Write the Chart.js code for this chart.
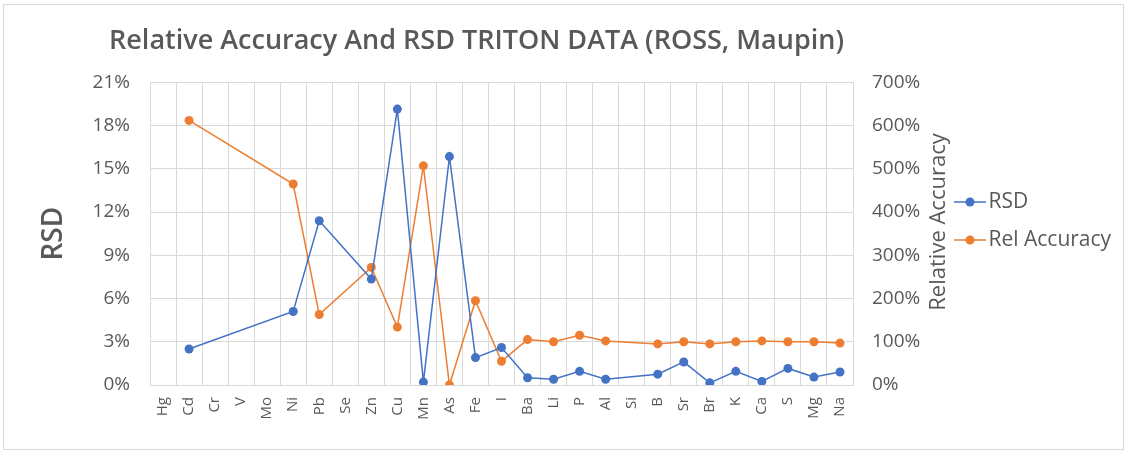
<!DOCTYPE html>
<html><head><meta charset="utf-8">
<script src="https://cdn.jsdelivr.net/npm/chart.js@4.4.1/dist/chart.umd.min.js"></script>
<style>
html,body{margin:0;padding:0;background:#fff;}
#wrap{position:relative;width:1129px;height:454px;}
#frame{position:absolute;left:3px;top:4px;width:1119px;height:444px;border:1px solid #d9d9d9;pointer-events:none;}
canvas{display:block;}
</style></head><body>
<div id="wrap"><canvas id="c" width="1129" height="454"></canvas><div id="frame"></div></div>
<script>
const categories = ['Hg','Cd','Cr','V','Mo','Ni','Pb','Se','Zn','Cu','Mn','As','Fe','I','Ba','Li','P','Al','Si','B','Sr','Br','K','Ca','S','Mg','Na'];
const rsdValues = [null,2.5,null,null,null,5.1,11.4,null,7.35,19.15,0.2,15.85,1.9,2.6,0.5,0.4,0.95,0.4,null,0.75,1.6,0.15,0.95,0.25,1.15,0.55,0.9];
const relAccuracyValues = [null,612,null,null,null,465,163,null,272,134,507,0,195,55,105,100,115,102,null,95,100,95,100,102,100,100,97];
const rsdAxis = {min: 0, max: 21, step: 3};
const accAxis = {min: 0, max: 700, step: 100};
const seriesNames = ['RSD', 'Rel Accuracy'];
const chartTitle = 'Relative Accuracy And RSD TRITON DATA (ROSS, Maupin)';
const leftTitle = 'RSD';
const rightTitle = 'Relative Accuracy';

const BLUE = '#4472C4', ORANGE = '#ED7D31', TXT = '#595959', GRID = '#d9d9d9';
const FONT = "'Open Sans', 'Liberation Sans', sans-serif";

function makeIcon(color){
  const c = document.createElement('canvas');
  c.width = 32; c.height = 12;
  const x = c.getContext('2d');
  x.strokeStyle = color; x.lineWidth = 1.5;
  x.beginPath(); x.moveTo(0, 6); x.lineTo(32, 6); x.stroke();
  x.fillStyle = color; x.beginPath(); x.arc(16, 6, 4.5, 0, Math.PI*2); x.fill();
  return c;
}

const fixPlugin = {
  id: 'fix',
  afterInit(chart){
    const lg = chart.legend;
    if (lg) {
      const orig = lg.fit.bind(lg);
      lg.fit = function(){ orig(); this.width = 177; };
    }
  },
  afterLayout(chart){
    if (chart.titleBlock) { chart.titleBlock.left = 0; chart.titleBlock.right = 953; }
    if (chart.legend) {
      chart.legend.top -= 6; chart.legend.bottom -= 6;
      chart.legend.left -= 7; chart.legend.right -= 7;
    }
  },
  afterDraw(chart){
    const ctx = chart.ctx;
    ctx.save();
    ctx.translate(939, 222);
    ctx.rotate(-Math.PI/2);
    ctx.font = "22px " + FONT;
    ctx.fillStyle = TXT;
    ctx.textAlign = 'center';
    ctx.textBaseline = 'middle';
    ctx.fillText(rightTitle, 0, 0);
    ctx.restore();
  }
};

new Chart(document.getElementById('c'), {
  type: 'line',
  data: {
    labels: categories,
    datasets: [
      {label: seriesNames[0], data: rsdValues, yAxisID: 'y', borderColor: BLUE, backgroundColor: BLUE,
       pointBackgroundColor: BLUE, pointBorderColor: BLUE, borderWidth: 1.5, pointRadius: 4.5, pointBorderWidth: 0,
       spanGaps: true, tension: 0},
      {label: seriesNames[1], data: relAccuracyValues, yAxisID: 'y1', borderColor: ORANGE, backgroundColor: ORANGE,
       pointBackgroundColor: ORANGE, pointBorderColor: ORANGE, borderWidth: 1.5, pointRadius: 4.5, pointBorderWidth: 0,
       spanGaps: true, tension: 0}
    ]
  },
  options: {
    responsive: false,
    devicePixelRatio: 1,
    animation: false,
    layout: {padding: {left: 33, right: 0, top: 0, bottom: 0}},
    plugins: {
      title: {display: true, text: chartTitle, color: TXT,
              font: {family: FONT, size: 27, weight: '600'}, padding: {top: 25, bottom: 25}},
      legend: {position: 'right', align: 'center',
        labels: {color: TXT, font: {family: FONT, size: 21}, usePointStyle: true, pointStyleWidth: 16, padding: 17,
          generateLabels(chart){
            return chart.data.datasets.map((ds, i) => ({text: ds.label, pointStyle: makeIcon(ds.borderColor),
              fillStyle: ds.borderColor, strokeStyle: ds.borderColor, lineWidth: 0, hidden: false, datasetIndex: i, fontColor: TXT}));
          }}},
      tooltip: {enabled: false}
    },
    scales: {
      x: {type: 'category', offset: true,
          grid: {offset: true, color: GRID, drawTicks: false, lineWidth: 1},
          border: {color: GRID},
          ticks: {autoSkip: false, minRotation: 90, maxRotation: 90, padding: 12, color: TXT, font: {family: FONT, size: 15}},
          afterFit(s){ s.height = 69; }},
      y: {position: 'left', min: rsdAxis.min, max: rsdAxis.max,
          grid: {color: GRID, drawTicks: false},
          border: {color: GRID},
          ticks: {stepSize: rsdAxis.step, padding: 20, color: TXT, font: {family: FONT, size: 19}, callback: v => v + '%'},
          title: {display: true, text: leftTitle, color: TXT, font: {family: FONT, size: 28, weight: '600'}, padding: {top: 4, bottom: 0}},
          afterFit(s){ s.width = 117; }},
      y1: {position: 'right', min: accAxis.min, max: accAxis.max,
          grid: {drawOnChartArea: false, drawTicks: false, color: GRID},
          border: {color: GRID},
          ticks: {stepSize: accAxis.step, padding: 19, color: TXT, font: {family: FONT, size: 19}, callback: v => v + '%'},
          afterFit(s){ s.width = 99; }}
    }
  },
  plugins: [fixPlugin]
});
</script>
</body></html>
